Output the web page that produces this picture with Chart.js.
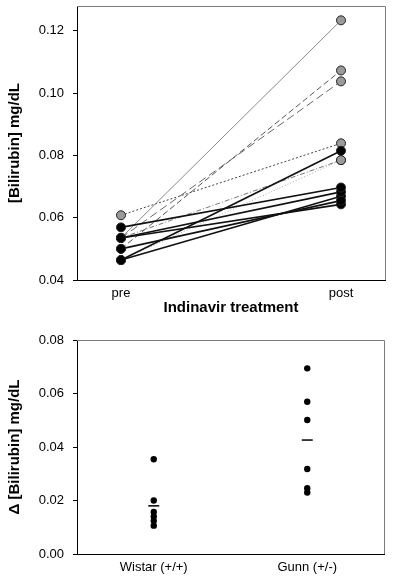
<!DOCTYPE html>
<html>
<head>
<meta charset="utf-8">
<script src="https://cdn.jsdelivr.net/npm/chart.js@4.4.1/dist/chart.umd.min.js"></script>
<style>
  html, body { margin: 0; padding: 0; background: #fff; }
  #wrap { position: relative; width: 400px; height: 586px; }
  #top-box { position: absolute; left: 0; top: 0; width: 400px; height: 320px; }
  #bottom-box { position: absolute; left: 0; top: 320px; width: 400px; height: 266px; }
</style>
</head>
<body>
<div id="wrap">
  <div id="top-box"><canvas id="pre-post-chart" width="400" height="320"></canvas></div>
  <div id="bottom-box"><canvas id="delta-chart" width="400" height="266"></canvas></div>
</div>
<script>
// top panel: bilirubin before / after indinavir, one line per rat
const phaseLabels = ['pre', 'post'];
const wistarPre  = [0.0464, 0.0569, 0.0535, 0.0500, 0.0464, 0.0535];
const wistarPost = [0.0815, 0.0697, 0.0683, 0.0655, 0.0669, 0.0643];
const gunnPre    = [0.0535, 0.0500, 0.0535, 0.0608, 0.0535, 0.0464];
const gunnPost   = [0.1234, 0.1073, 0.1038, 0.0839, 0.0785, 0.0785];
const topTicks = [0.04, 0.06, 0.08, 0.10, 0.12];

// bottom panel: change in bilirubin per strain
const strainLabels = ['Wistar (+/+)', 'Gunn (+/-)'];
const wistarDelta = [0.0354, 0.0200, 0.0157, 0.0140, 0.0124, 0.0106];
const gunnDelta   = [0.0694, 0.0569, 0.0501, 0.0318, 0.0246, 0.0230];
const deltaMeans  = [0.0180, 0.0426];
const bottomTicks = [0.00, 0.02, 0.04, 0.06, 0.08];

// line looks for the gunn rats (gray markers)
const gunnStyles = [
  { color: '#8a8a8a', dash: [] },
  { color: '#555', dash: [6, 3] },
  { color: '#666', dash: [8, 4] },
  { color: '#444', dash: [2, 2] },
  { color: '#777', dash: [5, 2, 1, 2] },
  { color: '#aaa', dash: [1, 2] }
];

Chart.defaults.font.family = "'Liberation Sans', Arial, sans-serif";
Chart.defaults.font.size = 13;
Chart.defaults.color = '#000';
Chart.defaults.plugins.legend.display = false;
Chart.defaults.plugins.tooltip.enabled = false;
Chart.defaults.animation = false;

// gray top/right edges of the plot box
const frameBox = {
  id: 'frameBox',
  afterDraw(chart) {
    const { ctx, chartArea: a } = chart;
    ctx.save();
    ctx.lineWidth = 1;
    ctx.strokeStyle = '#7a7a7a';
    ctx.beginPath();
    ctx.moveTo(a.left, a.top + 0.5);
    ctx.lineTo(a.right + 0.5, a.top + 0.5);
    ctx.lineTo(a.right + 0.5, a.bottom);
    ctx.stroke();
    ctx.restore();
  }
};

function yAxis(ticks, min, max, title) {
  return {
    type: 'linear',
    min: min,
    max: max,
    afterBuildTicks: axis => { axis.ticks = ticks.map(v => ({ value: v })); },
    afterFit: scale => { scale.width = 77; scale.paddingTop = 0; scale.paddingBottom = 0; },
    border: { display: true, color: '#000', width: 1 },
    grid: { display: true, drawOnChartArea: false, drawTicks: true, tickLength: 4, color: '#000' },
    ticks: { padding: 9, callback: v => v.toFixed(2) },
    title: { display: true, text: title, padding: { top: 6, bottom: 0 }, font: { size: 15, weight: 'bold' } }
  };
}

function xAxis(labels, min, max, height, title) {
  return {
    type: 'linear',
    min: min,
    max: max,
    afterBuildTicks: axis => { axis.ticks = labels.map((l, i) => ({ value: i })); },
    afterFit: scale => { scale.height = height; scale.paddingLeft = 0; scale.paddingRight = 0; },
    border: { display: true, color: '#000', width: 1 },
    grid: { display: false, drawTicks: false },
    ticks: { padding: 6, maxRotation: 0, callback: v => labels[v] },
    title: title
      ? { display: true, text: title, padding: { top: 0, bottom: 3 }, font: { size: 15, weight: 'bold' } }
      : { display: false }
  };
}

function pairLine(pre, post, style) {
  return {
    type: 'line',
    data: [{ x: 0, y: pre }, { x: 1, y: post }],
    borderColor: style.color,
    borderDash: style.dash,
    borderWidth: style.width,
    pointRadius: 4.5,
    pointBorderWidth: 1,
    pointBorderColor: '#222',
    pointBackgroundColor: style.fill
  };
}

// top chart
function getPrePostConfig() {
  const datasets = [];
  // first dataset is drawn last, so wistar (black) sits on top
  wistarPre.forEach((p, i) => {
    datasets.push(pairLine(p, wistarPost[i], { color: '#111', dash: [], width: 1.6, fill: '#000' }));
  });
  gunnPre.forEach((p, i) => {
    const s = gunnStyles[i];
    datasets.push(pairLine(p, gunnPost[i], { color: s.color, dash: s.dash, width: 1, fill: '#9a9a9a' }));
  });
  return {
    type: 'line',
    data: { datasets },
    options: {
      responsive: false,
      layout: { padding: { left: 0, right: 15, top: 6, bottom: 0 } },
      scales: {
        x: xAxis(phaseLabels, -0.2, 1.2, 40, 'Indinavir treatment'),
        y: yAxis(topTicks, 0.04, 0.128, '[Bilirubin] mg/dL')
      }
    },
    plugins: [frameBox]
  };
}

// bottom chart
function getDeltaConfig() {
  return {
    type: 'scatter',
    data: {
      datasets: [
        {
          data: wistarDelta.map(v => ({ x: 0, y: v })),
          pointRadius: 3.2, pointBackgroundColor: '#000', pointBorderColor: '#000', pointBorderWidth: 0
        },
        {
          data: gunnDelta.map(v => ({ x: 1, y: v })),
          pointRadius: 3.2, pointBackgroundColor: '#000', pointBorderColor: '#000', pointBorderWidth: 0
        },
        {
          data: deltaMeans.map((v, i) => ({ x: i, y: v })),
          pointStyle: 'line', pointRadius: 5.5, pointBorderWidth: 1.5, pointBorderColor: '#000'
        }
      ]
    },
    options: {
      responsive: false,
      layout: { padding: { left: 0, right: 16, top: 20, bottom: 0 } },
      scales: {
        x: xAxis(strainLabels, -0.5, 1.5, 32, null),
        y: yAxis(bottomTicks, 0, 0.08, 'Δ [Bilirubin] mg/dL')
      }
    },
    plugins: [frameBox]
  };
}

new Chart(document.getElementById('pre-post-chart'), getPrePostConfig());
new Chart(document.getElementById('delta-chart'), getDeltaConfig());
</script>
</body>
</html>
